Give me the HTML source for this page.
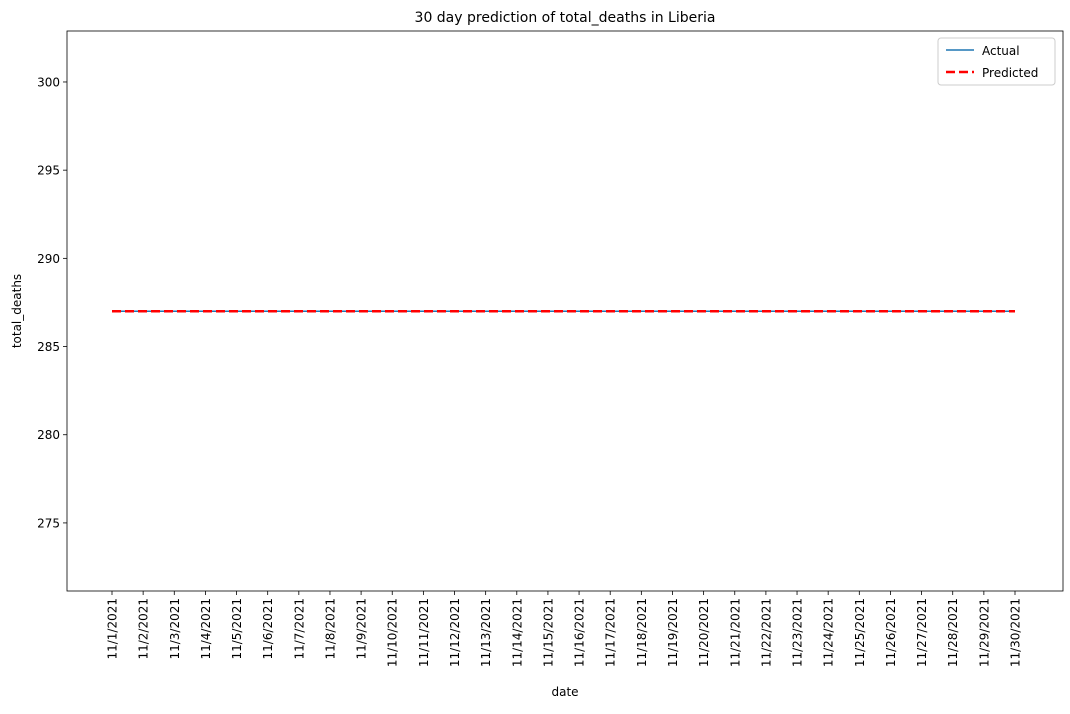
<!DOCTYPE html>
<html><head><meta charset="utf-8"><style>
body{margin:0;background:#fff;font-family:"Liberation Sans","DejaVu Sans",sans-serif;}
svg text{font-family:"DejaVu Sans","Liberation Sans",sans-serif;}
</style></head><body>
<svg id="chart" width="1070" height="709" xmlns="http://www.w3.org/2000/svg"></svg>
<script>
const dates = Array.from({length:30},(_,i)=>'11/'+(i+1)+'/2021');
const actual = [287,287,287,287,287,287,287,287,287,287,287,287,287,287,287,287,287,287,287,287,287,287,287,287,287,287,287,287,287,287];
const predicted = [287,287,287,287,287,287,287,287,287,287,287,287,287,287,287,287,287,287,287,287,287,287,287,287,287,287,287,287,287,287];
const yTicks = [275,280,285,290,295,300];

const L=67,R=1063,T=31,B=591;
const yMin=271.14,yMax=302.89;
const x0=112,x1=1015;
const xs=i=>x0+(x1-x0)*i/(dates.length-1);
const ys=v=>B-(v-yMin)/(yMax-yMin)*(B-T);
const svg=document.getElementById('chart');
const NS='http://www.w3.org/2000/svg';
function mk(tag,attrs,parent){const e=document.createElementNS(NS,tag);for(const k in attrs)e.setAttribute(k,attrs[k]);(parent||svg).appendChild(e);return e;}

let t=mk('text',{x:(L+R)/2,y:T-9,'text-anchor':'middle','font-size':14});
t.textContent='30 day prediction of total_deaths in Liberia';



yTicks.forEach(v=>{
  const y=ys(v);
  const l=mk('line',{x1:L-4,x2:L,y1:y,y2:y,stroke:'#000','stroke-width':0.8});
  
  
  const tx=mk('text',{x:L-7,y:y+4.5,'text-anchor':'end','font-size':12});
  tx.textContent=v;
  
  
});
dates.forEach((d,i)=>{
  const x=xs(i);
  const l=mk('line',{x1:x,x2:x,y1:B,y2:B+4,stroke:'#000','stroke-width':0.8});
  
  
  const tx=mk('text',{x:0,y:0,'text-anchor':'end','font-size':12,transform:`translate(${x+4.5},${B+7}) rotate(-90)`});
  tx.textContent=d;
  
  
});

let a=mk('polyline',{points:actual.map((v,i)=>xs(i)+','+ys(v)).join(' '),fill:'none',stroke:'#1f77b4','stroke-width':1.5});


let p=mk('polyline',{points:predicted.map((v,i)=>xs(i)+','+ys(v)).join(' '),fill:'none',stroke:'red','stroke-width':2.5,'stroke-dasharray':'9,4'});



let fr=mk('rect',{x:L,y:T,width:R-L,height:B-T,fill:'none',stroke:'#000','stroke-width':0.8});



let xl=mk('text',{x:(L+R)/2,y:696,'text-anchor':'middle','font-size':12});
xl.textContent='date';


let yl=mk('text',{x:0,y:0,'text-anchor':'middle','font-size':12,transform:`translate(21,${(T+B)/2}) rotate(-90)`});
yl.textContent='total_deaths';



const lg=mk('g',{});


mk('rect',{x:938,y:38,width:117,height:47,rx:3,fill:'#fff',stroke:'#ccc','stroke-width':1},lg);
mk('line',{x1:946,x2:974,y1:50,y2:50,stroke:'#1f77b4','stroke-width':1.5},lg);
let e1=mk('text',{x:982,y:55,'font-size':12},lg);e1.textContent='Actual';


mk('line',{x1:946,x2:974,y1:72,y2:72,stroke:'red','stroke-width':2.5,'stroke-dasharray':'9,4'},lg);
let e2=mk('text',{x:982,y:77,'font-size':12},lg);e2.textContent='Predicted';


</script>
</body></html>
